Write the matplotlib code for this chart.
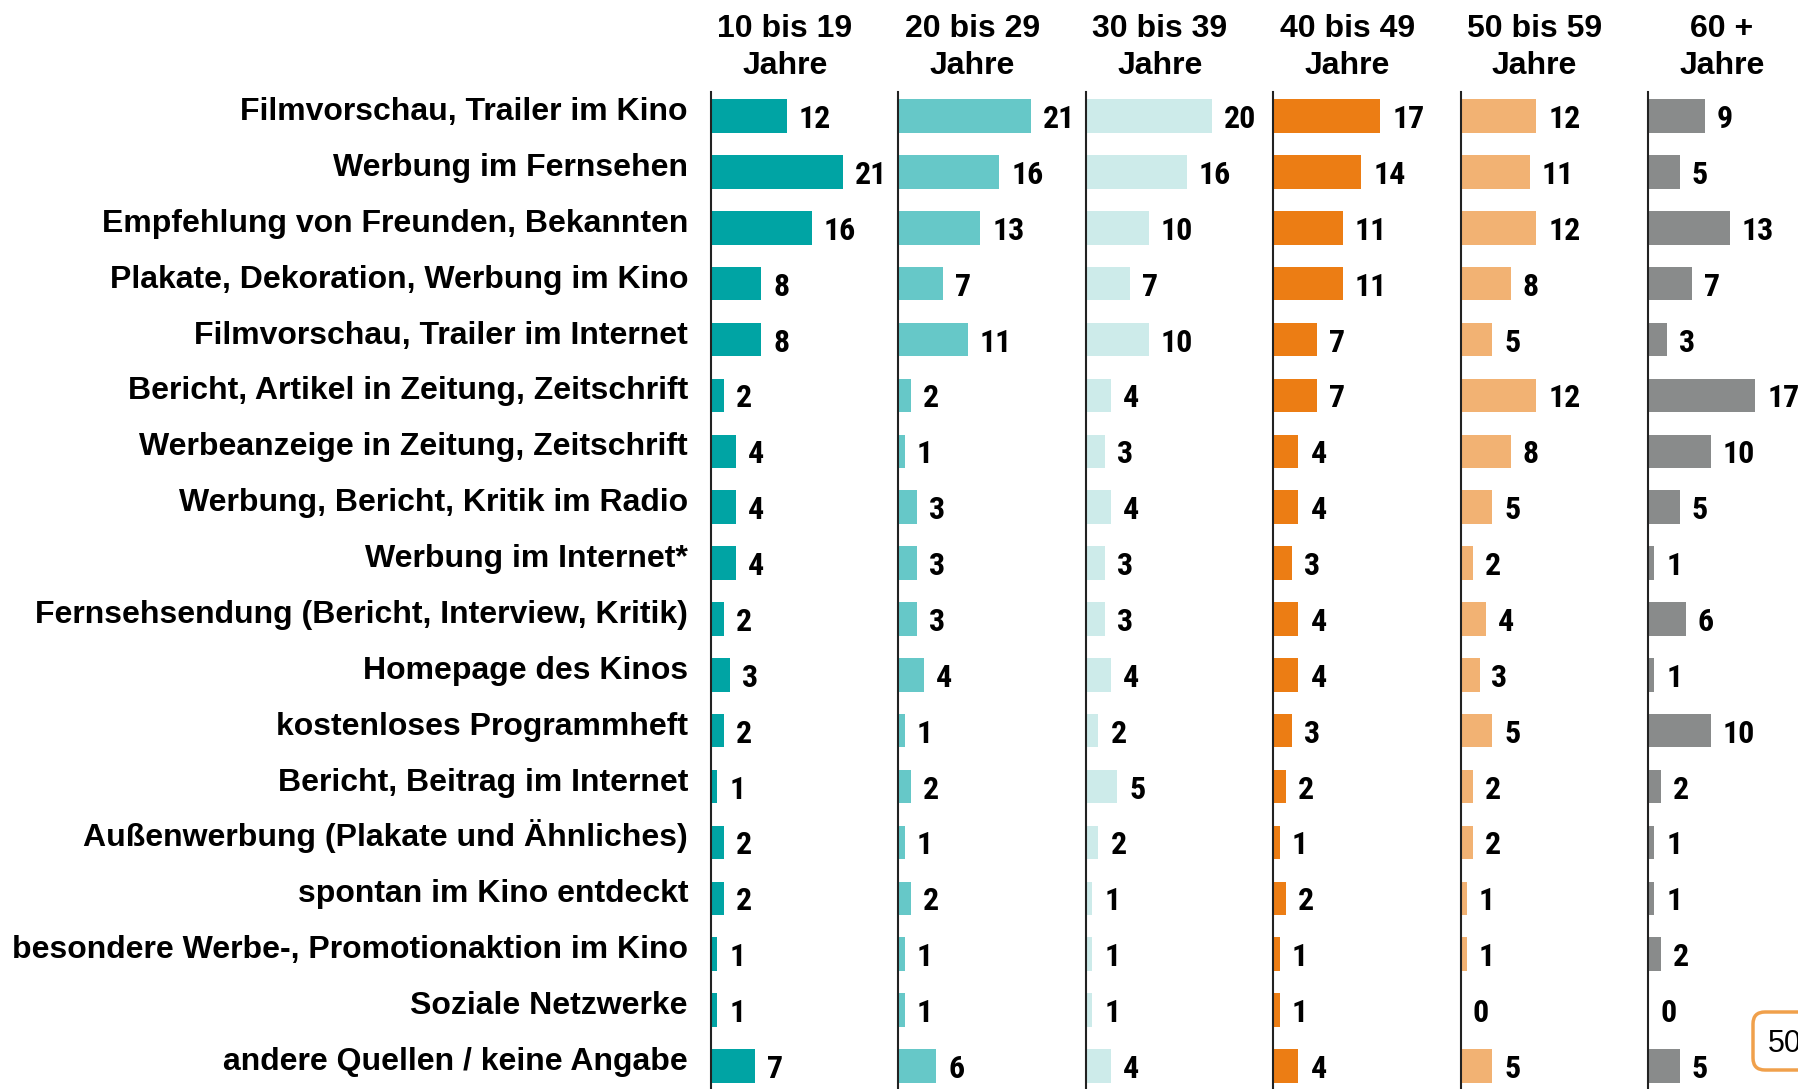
import matplotlib
matplotlib.use('Agg')
import matplotlib.pyplot as plt
import matplotlib.transforms as mtransforms
from matplotlib.patches import FancyBboxPatch

# Woher Kinobesucher von Filmen erfahren, nach Altersgruppen (in %)
quellen = [
    'Filmvorschau, Trailer im Kino',
    'Werbung im Fernsehen',
    'Empfehlung von Freunden, Bekannten',
    'Plakate, Dekoration, Werbung im Kino',
    'Filmvorschau, Trailer im Internet',
    'Bericht, Artikel in Zeitung, Zeitschrift',
    'Werbeanzeige in Zeitung, Zeitschrift',
    'Werbung, Bericht, Kritik im Radio',
    'Werbung im Internet*',
    'Fernsehsendung (Bericht, Interview, Kritik)',
    'Homepage des Kinos',
    'kostenloses Programmheft',
    'Bericht, Beitrag im Internet',
    'Außenwerbung (Plakate und Ähnliches)',
    'spontan im Kino entdeckt',
    'besondere Werbe-, Promotionaktion im Kino',
    'Soziale Netzwerke',
    'andere Quellen / keine Angabe',
]

altersgruppen = ['10 bis 19', '20 bis 29', '30 bis 39', '40 bis 49', '50 bis 59', '60 +']

werte_10_19 = [12, 21, 16, 8, 8, 2, 4, 4, 4, 2, 3, 2, 1, 2, 2, 1, 1, 7]
werte_20_29 = [21, 16, 13, 7, 11, 2, 1, 3, 3, 3, 4, 1, 2, 1, 2, 1, 1, 6]
werte_30_39 = [20, 16, 10, 7, 10, 4, 3, 4, 3, 3, 4, 2, 5, 2, 1, 1, 1, 4]
werte_40_49 = [17, 14, 11, 11, 7, 7, 4, 4, 3, 4, 4, 3, 2, 1, 2, 1, 1, 4]
werte_50_59 = [12, 11, 12, 8, 5, 12, 8, 5, 2, 4, 3, 5, 2, 2, 1, 1, 0, 5]
werte_60 = [9, 5, 13, 7, 3, 17, 10, 5, 1, 6, 1, 10, 2, 1, 1, 2, 0, 5]

alle_werte = [werte_10_19, werte_20_29, werte_30_39, werte_40_49, werte_50_59, werte_60]
farben = ['#00a4a4', '#66c8c8', '#cdebea', '#ec7d14', '#f2b273', '#898b8b']

W, H = 1798, 1089
fig = plt.figure(figsize=(W / 100, H / 100), dpi=100)
px = 72 / 100  # pixel -> point

label_font = ['Liberation Sans', 'DejaVu Sans']
zahl_font = ['Roboto Condensed', 'Liberation Sans Narrow', 'Liberation Sans']

top_px = 92
row0_px = 116
row_step = 55.88
ax_w = 170
n = len(quellen)
y_top = -(row0_px - top_px) / row_step
y_bot = (H - row0_px) / row_step

for k, (gruppe, werte, farbe) in enumerate(zip(altersgruppen, alle_werte, farben)):
    left_px = 711 + 187.4 * k
    ax = fig.add_axes([left_px / W, 0, ax_w / W, (H - top_px) / H])
    ax.barh(range(n), werte, height=0.6, color=farbe)
    ax.set_xlim(0, ax_w / 6.3)
    ax.set_ylim(y_bot, y_top)
    for s in ['top', 'right', 'bottom']:
        ax.spines[s].set_visible(False)
    ax.spines['left'].set_color('#222222')
    ax.spines['left'].set_linewidth(1.5)
    ax.set_xticks([])
    ax.set_yticks([])
    ax.patch.set_alpha(0)

    for i, v in enumerate(werte):
        ax.annotate(str(v), xy=(v, i), xytext=(12 * px, -12 * px),
                    textcoords='offset points', ha='left', va='baseline',
                    fontsize=23, fontweight='bold', family=zahl_font,
                    annotation_clip=False)

    # Kopfzeile über jeder Spalte
    ax.annotate(gruppe, xy=(0, 1), xycoords='axes fraction',
                xytext=(74 * px, (top_px - 37) * px), textcoords='offset points',
                ha='center', va='baseline', fontsize=23, fontweight='bold',
                family=label_font, annotation_clip=False)
    ax.annotate('Jahre', xy=(0, 1), xycoords='axes fraction',
                xytext=(74 * px, (top_px - 74) * px), textcoords='offset points',
                ha='center', va='baseline', fontsize=23, fontweight='bold',
                family=label_font, annotation_clip=False)

    if k == 0:
        for i, q in enumerate(quellen):
            ax.annotate(q, xy=(0, i), xycoords=('axes fraction', 'data'),
                        xytext=(-23 * px, -4 * px), textcoords='offset points',
                        ha='right', va='baseline', fontsize=23, fontweight='bold',
                        family=label_font, annotation_clip=False)

# Seitenzahl unten rechts
box = FancyBboxPatch((1753, H - 1070), 80, 58,
                     boxstyle='round,pad=0,rounding_size=12',
                     transform=mtransforms.IdentityTransform(),
                     fc='white', ec='#f0a04b', lw=2.5)
fig.add_artist(box)
fig.text(1768 / W, 1 - 1052 / H, '50', fontsize=22, family=label_font,
         ha='left', va='baseline')

fig.savefig('out.png', dpi=100)
